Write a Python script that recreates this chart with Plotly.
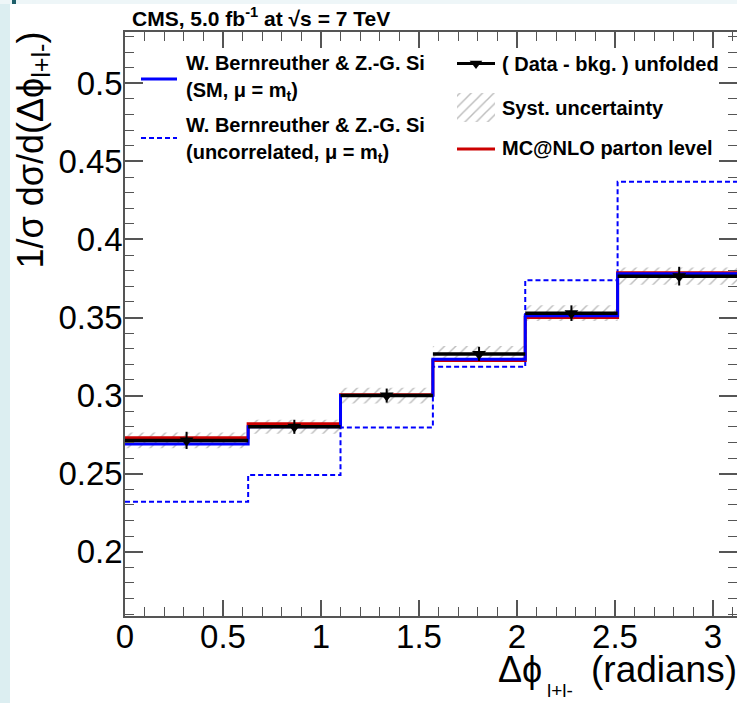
import math
import plotly.graph_objects as go

PI = math.pi
# bin edges (radians)
BIN_EDGES = [0.0, 0.2 * PI, 0.35 * PI, 0.5 * PI, 0.65 * PI, 0.8 * PI, PI]
# unfolded data (normalised), stat and syst uncertainties
DATA = [0.2713, 0.2800, 0.3000, 0.3267, 0.3528, 0.3765]
STAT_ERR = [0.0055, 0.0045, 0.0045, 0.0045, 0.0050, 0.0060]
SYST_ERR = [0.0050, 0.0045, 0.0050, 0.0050, 0.0050, 0.0055]
# theory predictions
SM = [0.2690, 0.2800, 0.3000, 0.3233, 0.3512, 0.3780]
UNCORR = [0.2320, 0.2492, 0.2795, 0.3184, 0.3739, 0.4370]
MCNLO = [0.2730, 0.2820, 0.3005, 0.3224, 0.3500, 0.3787]

FONT = "Liberation Sans, Arial, Helvetica, sans-serif"
W, H = 737, 703
L, R, T, B = 125, 0, 32, 87
PW, PH = W - L - R, H - T - B


def PX(px):
    return (px - L) / PW


def PY(py):
    return (H - B - py) / PH


centers = [(a + b) / 2 for a, b in zip(BIN_EDGES[:-1], BIN_EDGES[1:])]
halfw = [(b - a) / 2 for a, b in zip(BIN_EDGES[:-1], BIN_EDGES[1:])]
widths = [b - a for a, b in zip(BIN_EDGES[:-1], BIN_EDGES[1:])]


def step(vals):
    return list(vals) + [vals[-1]]


HATCH = dict(shape="/", fgcolor="#7a7a7a", bgcolor="rgba(0,0,0,0)", size=8, solidity=0.18)

fig = go.Figure()

# systematic uncertainty band (hatched)
fig.add_trace(go.Bar(
    x=centers, y=[2 * e for e in SYST_ERR], base=[v - e for v, e in zip(DATA, SYST_ERR)],
    width=widths,
    marker=dict(color="rgba(0,0,0,0)", line=dict(width=0), pattern=HATCH),
    hoverinfo="skip"))

# uncorrelated prediction (dashed)
fig.add_trace(go.Scatter(x=BIN_EDGES, y=step(UNCORR), mode="lines", line_shape="hv",
                         line=dict(color="#0000ff", width=2, dash="5px,3px")))
# MC@NLO
fig.add_trace(go.Scatter(x=BIN_EDGES, y=step(MCNLO), mode="lines", line_shape="hv",
                         line=dict(color="#cc0000", width=3)))
# SM prediction
fig.add_trace(go.Scatter(x=BIN_EDGES, y=step(SM), mode="lines", line_shape="hv",
                         line=dict(color="#0000ff", width=3)))
# data
fig.add_trace(go.Scatter(
    x=centers, y=DATA, mode="markers",
    marker=dict(symbol="triangle-down", size=12, color="black"),
    error_x=dict(type="data", array=halfw, symmetric=True, thickness=3.5, width=0, color="black"),
    error_y=dict(type="data", array=STAT_ERR, symmetric=True, thickness=2, width=0, color="black")))

# ---- legend samples (pixel-space overlay axes) ----
fig.add_trace(go.Scatter(x=[141, 177], y=[79, 79], mode="lines", xaxis="x2", yaxis="y2",
                         line=dict(color="#0000ff", width=3)))
fig.add_trace(go.Scatter(x=[141, 177], y=[138, 138], mode="lines", xaxis="x2", yaxis="y2",
                         line=dict(color="#0000ff", width=2, dash="5px,3px")))
fig.add_trace(go.Scatter(x=[457, 495], y=[63.5, 63.5], mode="lines", xaxis="x2", yaxis="y2",
                         line=dict(color="black", width=3)))
fig.add_trace(go.Scatter(x=[476], y=[63.5], mode="markers", xaxis="x2", yaxis="y2",
                         marker=dict(symbol="triangle-down", size=11, color="black")))
fig.add_trace(go.Bar(x=[476], y=[29], base=[93], width=[38], xaxis="x2", yaxis="y2",
                     marker=dict(color="rgba(0,0,0,0)", line=dict(width=0), pattern=HATCH)))
fig.add_trace(go.Scatter(x=[457, 495], y=[149, 149], mode="lines", xaxis="x2", yaxis="y2",
                         line=dict(color="#cc0000", width=3)))

axcol = "#555555"
fig.update_layout(
    width=W, height=H,
    margin=dict(l=L, r=R, t=T, b=B, autoexpand=False),
    paper_bgcolor="white", plot_bgcolor="white",
    showlegend=False, barmode="overlay",
    font=dict(family=FONT, color="black"),
    xaxis=dict(range=[0, PW / 196.0], showline=True, linecolor=axcol, linewidth=1.5,
               mirror="ticks", ticks="inside", ticklen=16, tickwidth=1.5, tickcolor=axcol,
               tick0=0, dtick=0.5, showgrid=False, zeroline=False, ticklabelstandoff=-9,
               tickfont=dict(size=33, family=FONT, color="black"),
               minor=dict(ticks="inside", ticklen=9, tick0=0, dtick=0.1, tickcolor=axcol,
                          tickwidth=1.2, showgrid=False)),
    yaxis=dict(range=[0.1588, 0.5329], showline=True, linecolor=axcol, linewidth=1.5,
               mirror="ticks", ticks="inside", ticklen=18, tickwidth=1.5, tickcolor=axcol,
               tick0=0, dtick=0.05, showgrid=False, zeroline=False, ticklabelstandoff=-6,
               tickfont=dict(size=33, family=FONT, color="black"),
               minor=dict(ticks="inside", ticklen=9, tick0=0, dtick=0.01, tickcolor=axcol,
                          tickwidth=1.2, showgrid=False)),
    xaxis2=dict(overlaying="x", anchor="y2", range=[L, W - R], visible=False),
    yaxis2=dict(overlaying="y", anchor="x2", range=[H - B, T], visible=False),
)

# background decoration of the slide edge
fig.add_shape(type="rect", xref="paper", yref="paper", x0=PX(0), x1=PX(10), y0=PY(H), y1=PY(0),
              fillcolor="#dceef1", line=dict(width=0), layer="below")
fig.add_shape(type="rect", xref="paper", yref="paper", x0=PX(0), x1=PX(W), y0=PY(4), y1=PY(0),
              fillcolor="#eef6f8", line=dict(width=0), layer="below")
fig.add_shape(type="rect", xref="paper", yref="paper", x0=PX(12), x1=PX(16), y0=PY(4), y1=PY(0),
              fillcolor="#1f5f6a", line=dict(width=0), layer="below")


def ann(text, x, y, size, xanchor="left", yanchor="middle", **kw):
    fig.add_annotation(text=text, x=PX(x), y=PY(y), xref="paper", yref="paper",
                       xanchor=xanchor, yanchor=yanchor, showarrow=False,
                       font=dict(size=size, family=FONT, color="black"), **kw)


ann("<b>CMS, 5.0 fb<sup>-1</sup> at √s = 7 TeV</b>", 130, 17, 21)
ann("<b>W. Bernreuther &amp; Z.-G. Si</b>", 184, 63, 20)
ann("<b>(SM, μ = m<sub>t</sub>)</b>", 184, 92, 20)
ann("<b>W. Bernreuther &amp; Z.-G. Si</b>", 184, 125, 20)
ann("<b>(uncorrelated, μ = m<sub>t</sub>)</b>", 184, 154, 20)
ann("<b>( Data - bkg. ) unfolded</b>", 500, 64, 20)
ann("<b>Syst. uncertainty</b>", 500, 108, 20)
ann("<b>MC@NLO parton level</b>", 500, 148, 20)

# y-axis title
ann("1/σ dσ/d(Δϕ<sub>l+l-</sub>)", 7, 30, 36, xanchor="left", yanchor="top", textangle=-90)
# x-axis title (pieces so the subscript sits low, as in the original)
ann("Δϕ", 496, 669, 36, xanchor="left", yanchor="middle")
ann("l+l-", 545, 690, 19, xanchor="left", yanchor="middle")
ann("(radians)", 739, 669, 37, xanchor="right", yanchor="middle")

fig.write_html(
    "out.html",
    config={"displayModeBar": False},
    post_script="document.body.style.margin='0';document.body.style.overflow='hidden';"
                "document.documentElement.style.overflow='hidden';",
)
